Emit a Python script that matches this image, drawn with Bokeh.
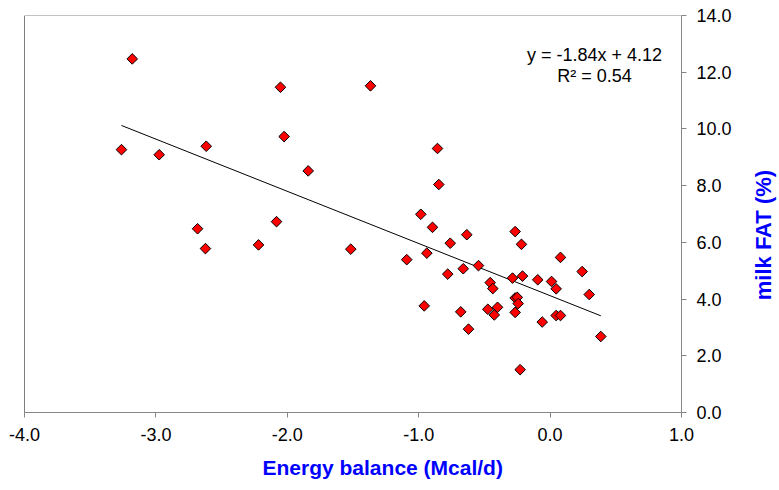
import math
from bokeh.plotting import figure
from bokeh.layouts import row
from bokeh.models import Label, Span, Range1d, NumeralTickFormatter, FixedTicker, Title
from bokeh.embed import file_html
from bokeh.resources import INLINE

# ---- data ----
energy_balance = [
    -3.180, -3.262, -2.975, -2.617, -2.052, -1.367, -2.024, -1.841, -2.683, -2.623,
    -2.219, -2.082, -1.517, -0.857, -0.847, -0.984, -0.895, -0.634, -0.760, -0.938,
    -1.091, -0.266, -0.218, 0.079, 0.244, 0.298, 0.386, -0.545, -0.661, -0.779,
    -0.456, -0.436, -0.286, -0.210, -0.094, 0.011, 0.046, -0.958, -0.680, -0.474,
    -0.400, -0.425, -0.266, -0.250, -0.243, -0.266, -0.621, -0.060, 0.046, 0.079,
    -0.228,
]
milk_fat = [
    12.47, 9.27, 9.09, 9.39, 11.47, 11.52, 9.73, 8.52, 6.48, 5.78,
    5.91, 6.73, 5.76, 9.31, 8.04, 6.99, 6.53, 6.27, 5.97, 5.62,
    5.39, 6.38, 5.93, 5.47, 4.97, 4.16, 2.68, 5.18, 5.07, 4.88,
    4.58, 4.37, 4.74, 4.81, 4.68, 4.62, 4.36, 3.76, 3.55, 3.64,
    3.71, 3.44, 4.04, 4.06, 3.84, 3.53, 2.94, 3.19, 3.42, 3.42,
    1.51,
]
trend_slope = -1.84
trend_intercept = 4.12
r_squared = 0.54
x_ticks = [-4, -3, -2, -1, 0, 1]
y_ticks = [0, 2, 4, 6, 8, 10, 12, 14]
x_title = "Energy balance (Mcal/d)"
y_title = "milk  FAT (%)"

# ---- layout geometry (pixels) ----
W, H = 779, 490
SIDE_W = 39                     # strip on the right holding the y title
MAIN_W = W - SIDE_W
FL, FT, FR, FB = 24, 15, 681, 412  # frame left, top, right, bottom
X0, X1 = -4.0, 1.0
Y0, Y1 = 0.0, 14.0


def px_x(px):
    return X0 + (px - FL) / (FR - FL) * (X1 - X0)


def px_y(py):
    return Y0 + (FB - py) / (FB - FT) * (Y1 - Y0)


FONT = "Liberation Sans"

p = figure(width=MAIN_W, height=H, x_range=Range1d(X0, X1), y_range=Range1d(Y0, Y1),
           y_axis_location="right", output_backend="svg", toolbar_location=None,
           min_border_left=FL, min_border_top=FT, min_border_right=MAIN_W - FR,
           min_border_bottom=H - FB)
p.outline_line_color = None
p.grid.visible = False
p.background_fill_color = "white"
p.border_fill_color = "white"

for ax, ticks in ((p.xaxis, x_ticks), (p.yaxis, y_ticks)):
    ax.ticker = FixedTicker(ticks=ticks)
    ax.formatter = NumeralTickFormatter(format="0.0")
    ax.axis_line_color = "#868686"
    ax.axis_line_width = 1
    ax.major_tick_line_color = "#868686"
    ax.major_tick_in = 0
    ax.major_tick_out = 5
    ax.minor_tick_line_color = None
    ax.major_label_text_font = FONT
    ax.major_label_text_font_size = "18px"
    ax.major_label_text_color = "black"
p.xaxis.major_label_standoff = 10
p.yaxis.major_label_standoff = 10

# x axis title, shifted like the reference
p.add_layout(Title(text=x_title, align="left", offset=238, standoff=21,
                   text_font=FONT, text_font_size="21px", text_font_style="bold",
                   text_color="#0000FF"), "below")

# frame borders: left black, top gray
p.add_layout(Span(location=X0, dimension="height", line_color="black", line_width=1))
p.add_layout(Span(location=Y1, dimension="width", line_color="#868686", line_width=1))

# trend line from the fitted equation over the data's x span
xmin, xmax = min(energy_balance), max(energy_balance)
p.line([xmin, xmax], [trend_slope * xmin + trend_intercept, trend_slope * xmax + trend_intercept],
       line_color="black", line_width=1)

p.scatter(energy_balance, milk_fat, marker="square", angle=math.pi / 4, size=7.5,
          fill_color="#FF0000", line_color="black", line_width=1)

eq1 = f"y = {trend_slope:.2f}x + {trend_intercept:.2f}"
eq2 = f"R² = {r_squared:.2f}"
for txt, py in ((eq1, 54.3), (eq2, 75.0)):
    p.add_layout(Label(x=px_x(594), y=px_y(py), text=txt, text_align="center",
                       text_baseline="alphabetic", text_font=FONT,
                       text_font_size="18px", text_color="black"))

# right strip: y axis title reading bottom to top.
side = figure(width=SIDE_W, height=H, x_range=Range1d(0, SIDE_W), y_range=Range1d(H - FB, H - FT),
              x_axis_location=None, y_axis_location=None, output_backend="svg",
              toolbar_location=None, min_border_left=0, min_border_right=0,
              min_border_top=FT, min_border_bottom=H - FB)
side.outline_line_color = None
side.grid.visible = False
side.background_fill_color = "white"
side.border_fill_color = "white"
side.add_layout(Label(x=23.3, y=H - 231.5, text=y_title, text_align="center",
                      text_baseline="alphabetic", angle=math.pi / 2, text_font=FONT,
                      text_font_size="22px", text_font_style="bold", text_color="#0000FF"))

layout = row(p, side, spacing=0)
open("out.html", "w").write(file_html(layout, INLINE))
